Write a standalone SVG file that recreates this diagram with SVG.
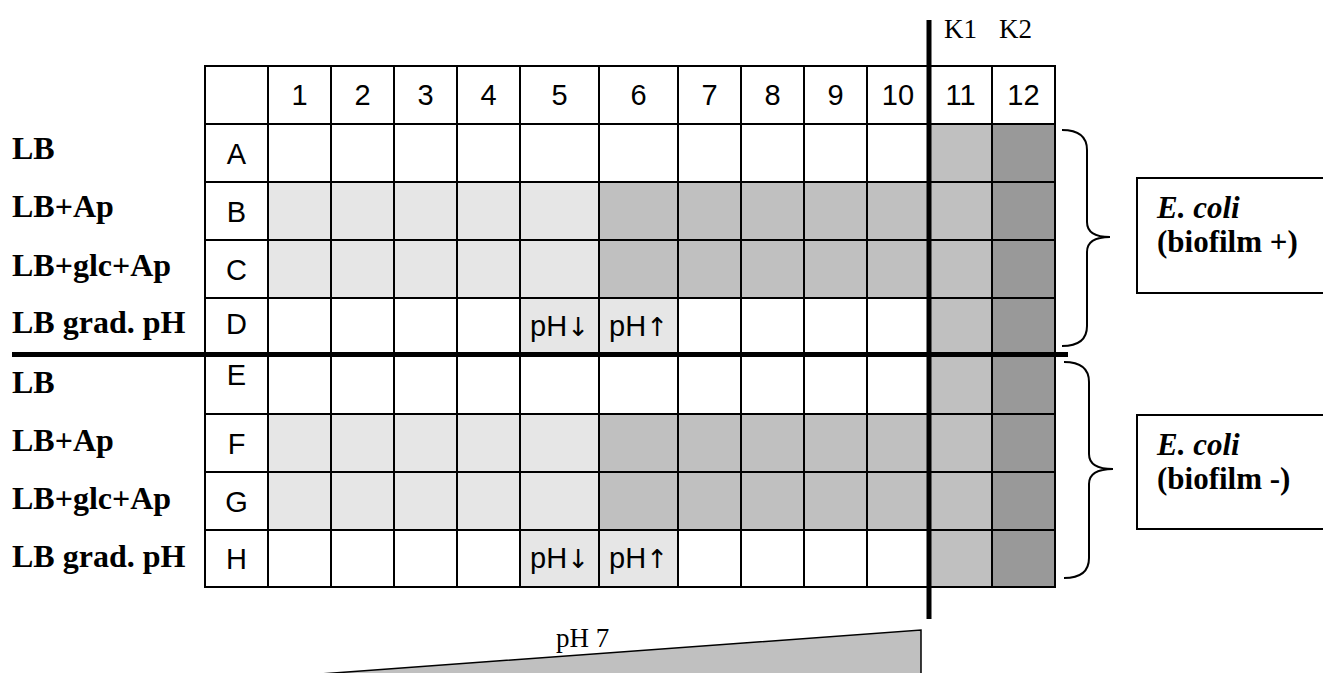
<svg xmlns="http://www.w3.org/2000/svg" width="1323" height="673" viewBox="0 0 1323 673">
  <style>
    .cell { stroke: #000; stroke-width: 2; }
    .w { fill: #ffffff; }
    .l { fill: #e6e6e6; }
    .m { fill: #c0c0c0; }
    .d { fill: #999999; }
    .num { font-family: "Liberation Sans", Arial, sans-serif; font-size: 29px; text-anchor: middle; fill: #000; }
    .arr { font-family: "DejaVu Sans", sans-serif; font-size: 26px; }
    .lab { font-family: "Liberation Serif", "Times New Roman", serif; font-size: 32px; font-weight: bold; fill: #000; }
    .box { font-family: "Liberation Serif", "Times New Roman", serif; font-size: 31px; font-weight: bold; fill: #000; }
    .k { font-family: "Liberation Serif", "Times New Roman", serif; font-size: 27px; fill: #000; }
    .brace { fill: none; stroke: #000; stroke-width: 2; }
    .thick { stroke: #000; stroke-width: 5; }
  </style>

  <!-- control labels above columns 11 and 12 -->
  <g id="controls">
    <text class="k" x="944" y="38">K1</text>
    <text class="k" x="999" y="38">K2</text>
  </g>

  <!-- plate grid -->
  <g id="plate">
    <!-- header row -->
    <g id="header">
      <rect class="cell w" x="205" y="66" width="63" height="58"/>
      <rect class="cell w" x="268" y="66" width="63" height="58"/>
      <rect class="cell w" x="331" y="66" width="63" height="58"/>
      <rect class="cell w" x="394" y="66" width="63" height="58"/>
      <rect class="cell w" x="457" y="66" width="63" height="58"/>
      <rect class="cell w" x="520" y="66" width="79" height="58"/>
      <rect class="cell w" x="599" y="66" width="79" height="58"/>
      <rect class="cell w" x="678" y="66" width="63" height="58"/>
      <rect class="cell w" x="741" y="66" width="63" height="58"/>
      <rect class="cell w" x="804" y="66" width="63" height="58"/>
      <rect class="cell w" x="867" y="66" width="62" height="58"/>
      <rect class="cell w" x="929" y="66" width="63" height="58"/>
      <rect class="cell w" x="992" y="66" width="63" height="58"/>
      <text class="num" x="299.5" y="105">1</text>
      <text class="num" x="362.5" y="105">2</text>
      <text class="num" x="425.5" y="105">3</text>
      <text class="num" x="488.5" y="105">4</text>
      <text class="num" x="559.5" y="105">5</text>
      <text class="num" x="638.5" y="105">6</text>
      <text class="num" x="709.5" y="105">7</text>
      <text class="num" x="772.5" y="105">8</text>
      <text class="num" x="835.5" y="105">9</text>
      <text class="num" x="898" y="105">10</text>
      <text class="num" x="960.5" y="105">11</text>
      <text class="num" x="1023.5" y="105">12</text>
    </g>

    <!-- rows A-D -->
    <g id="upper-rows">
      <!-- A -->
      <rect class="cell w" x="205" y="124" width="63" height="58"/>
      <rect class="cell w" x="268" y="124" width="661" height="58"/>
      <rect class="cell m" x="929" y="124" width="63" height="58"/>
      <rect class="cell d" x="992" y="124" width="63" height="58"/>
      <!-- B -->
      <rect class="cell w" x="205" y="182" width="63" height="58"/>
      <rect class="cell l" x="268" y="182" width="331" height="58"/>
      <rect class="cell m" x="599" y="182" width="330" height="58"/>
      <rect class="cell m" x="929" y="182" width="63" height="58"/>
      <rect class="cell d" x="992" y="182" width="63" height="58"/>
      <!-- C -->
      <rect class="cell w" x="205" y="240" width="63" height="58"/>
      <rect class="cell l" x="268" y="240" width="331" height="58"/>
      <rect class="cell m" x="599" y="240" width="330" height="58"/>
      <rect class="cell m" x="929" y="240" width="63" height="58"/>
      <rect class="cell d" x="992" y="240" width="63" height="58"/>
      <!-- D -->
      <rect class="cell w" x="205" y="298" width="63" height="56"/>
      <rect class="cell w" x="268" y="298" width="661" height="56"/>
      <rect class="cell l" x="520" y="298" width="79" height="56"/>
      <rect class="cell l" x="599" y="298" width="79" height="56"/>
      <rect class="cell m" x="929" y="298" width="63" height="56"/>
      <rect class="cell d" x="992" y="298" width="63" height="56"/>
    </g>

    <!-- rows E-H -->
    <g id="lower-rows">
      <!-- E -->
      <rect class="cell w" x="205" y="356" width="63" height="58"/>
      <rect class="cell w" x="268" y="356" width="661" height="58"/>
      <rect class="cell m" x="929" y="356" width="63" height="58"/>
      <rect class="cell d" x="992" y="356" width="63" height="58"/>
      <!-- F -->
      <rect class="cell w" x="205" y="414" width="63" height="58"/>
      <rect class="cell l" x="268" y="414" width="331" height="58"/>
      <rect class="cell m" x="599" y="414" width="330" height="58"/>
      <rect class="cell m" x="929" y="414" width="63" height="58"/>
      <rect class="cell d" x="992" y="414" width="63" height="58"/>
      <!-- G -->
      <rect class="cell w" x="205" y="472" width="63" height="58"/>
      <rect class="cell l" x="268" y="472" width="331" height="58"/>
      <rect class="cell m" x="599" y="472" width="330" height="58"/>
      <rect class="cell m" x="929" y="472" width="63" height="58"/>
      <rect class="cell d" x="992" y="472" width="63" height="58"/>
      <!-- H -->
      <rect class="cell w" x="205" y="530" width="63" height="57"/>
      <rect class="cell w" x="268" y="530" width="661" height="57"/>
      <rect class="cell l" x="520" y="530" width="79" height="57"/>
      <rect class="cell l" x="599" y="530" width="79" height="57"/>
      <rect class="cell m" x="929" y="530" width="63" height="57"/>
      <rect class="cell d" x="992" y="530" width="63" height="57"/>
    </g>

    <!-- inner column dividers for the merged spans -->
    <g id="dividers" stroke="#000" stroke-width="2">
      <path d="M331,124V354M394,124V354M457,124V354M520,124V354M599,124V354M678,124V354M741,124V354M804,124V354M867,124V354"/>
      <path d="M331,356V587M394,356V587M457,356V587M520,356V587M599,356V587M678,356V587M741,356V587M804,356V587M867,356V587"/>
    </g>

    <!-- row letters -->
    <g id="row-letters">
      <text class="num" x="236.5" y="164">A</text>
      <text class="num" x="236.5" y="222">B</text>
      <text class="num" x="236.5" y="280">C</text>
      <text class="num" x="236.5" y="334">D</text>
      <text class="num" x="236.5" y="385">E</text>
      <text class="num" x="236.5" y="454">F</text>
      <text class="num" x="236.5" y="512">G</text>
      <text class="num" x="236.5" y="569">H</text>
    </g>

    <!-- pH gradient wells -->
    <g id="ph-wells">
      <text class="num" x="559.5" y="336">pH<tspan class="arr">↓</tspan></text>
      <text class="num" x="638.5" y="336">pH<tspan class="arr">↑</tspan></text>
      <text class="num" x="559.5" y="568">pH<tspan class="arr">↓</tspan></text>
      <text class="num" x="638.5" y="568">pH<tspan class="arr">↑</tspan></text>
    </g>
  </g>

  <!-- medium labels -->
  <g id="media">
    <text class="lab" x="12" y="159">LB</text>
    <text class="lab" x="12" y="217">LB+Ap</text>
    <text class="lab" x="12" y="276">LB+glc+Ap</text>
    <text class="lab" x="12" y="333">LB grad. pH</text>
    <text class="lab" x="12" y="393">LB</text>
    <text class="lab" x="12" y="451">LB+Ap</text>
    <text class="lab" x="12" y="509">LB+glc+Ap</text>
    <text class="lab" x="12" y="567">LB grad. pH</text>
  </g>

  <!-- separators -->
  <g id="separators">
    <line class="thick" x1="12" y1="354.5" x2="1068" y2="354.5"/>
    <line class="thick" x1="929" y1="20" x2="929" y2="619"/>
  </g>

  <!-- strain boxes with braces -->
  <g id="biofilm-plus">
    <path class="brace" d="M1062,130 Q1087,130 1087,150 L1087,222 Q1087,237 1110,237 Q1087,237 1087,252 L1087,326 Q1087,346 1062,346"/>
    <rect x="1137" y="178" width="200" height="115" fill="#fff" stroke="#000" stroke-width="2"/>
    <text class="box" x="1157" y="218"><tspan font-style="italic">E. coli</tspan></text>
    <text class="box" x="1157" y="252">(biofilm +)</text>
  </g>
  <g id="biofilm-minus">
    <path class="brace" d="M1064,362 Q1089,362 1089,382 L1089,454 Q1089,469 1113,469 Q1089,469 1089,484 L1089,558 Q1089,578 1064,578"/>
    <rect x="1137" y="415" width="200" height="114" fill="#fff" stroke="#000" stroke-width="2"/>
    <text class="box" x="1157" y="455"><tspan font-style="italic">E. coli</tspan></text>
    <text class="box" x="1157" y="489">(biofilm -)</text>
  </g>

  <!-- pH gradient wedge -->
  <g id="ph-gradient">
    <polygon points="320,674 921,630 921,680" fill="#c0c0c0" stroke="#000" stroke-width="1.5"/>
    <text class="k" x="556" y="647" font-size="26">pH 7</text>
  </g>
</svg>
